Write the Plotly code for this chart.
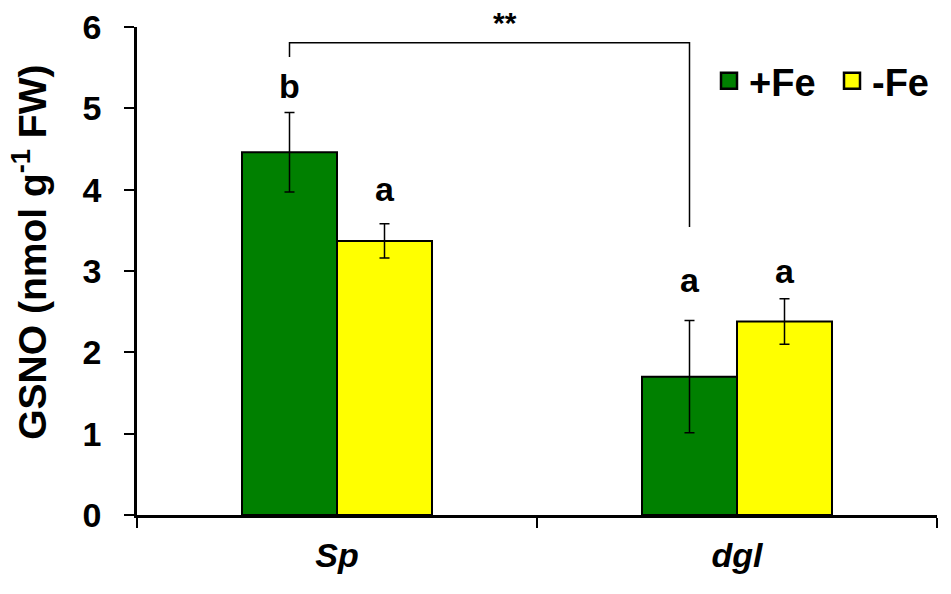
import plotly.graph_objects as go

# dados
genotipos = ["Sp", "dgl"]
tratamentos = ["+Fe", "-Fe"]
cores = ["#008000", "#ffff00"]

gsno_mais_fe = [4.46, 1.70]
gsno_menos_fe = [3.37, 2.38]
erro_mais_fe = [0.49, 0.69]
erro_menos_fe = [0.21, 0.28]

letras_mais_fe = ["b", "a"]
letras_menos_fe = ["a", "a"]

FONTE = "Liberation Sans, Arial, sans-serif"
BARGAP = 0.525

fig = go.Figure()

series = [
    (gsno_mais_fe, erro_mais_fe, letras_mais_fe),
    (gsno_menos_fe, erro_menos_fe, letras_menos_fe),
]

for i, (valores, erros, letras) in enumerate(series):
    fig.add_trace(go.Bar(
        x=genotipos,
        y=valores,
        name=tratamentos[i],
        marker=dict(color=cores[i], line=dict(color="black", width=2)),
        error_y=dict(type="data", array=erros, color="black", thickness=1.5, width=5),
        showlegend=False,
    ))
    # legenda com quadrados maiores
    fig.add_trace(go.Scatter(
        x=[None], y=[None], mode="markers", name=tratamentos[i],
        marker=dict(symbol="square", size=22, color=cores[i],
                    line=dict(color="black", width=2.5)),
    ))

# letras de significância acima das barras de erro
largura = (1 - BARGAP) / 2
espaco_letras = [[5, 20], [14, 7]]  # px acima da barra de erro
for i, (valores, erros, letras) in enumerate(series):
    deslocamento = -largura / 2 if i == 0 else largura / 2
    for j in range(len(genotipos)):
        fig.add_annotation(
            x=j + deslocamento, y=valores[j] + erros[j],
            text=letras[j], showarrow=False, yanchor="bottom",
            yshift=espaco_letras[i][j],
            font=dict(family=FONTE, size=34, color="black", weight="bold"),
        )

# colchete de comparação entre genótipos
x_esq = 0 - largura / 2
x_dir = 1 - largura / 2
fig.add_shape(type="path", xref="x", yref="y",
              path=f"M {x_esq},5.63 L {x_esq},5.805 L {x_dir},5.805 L {x_dir},3.54",
              line=dict(color="black", width=1.5))
fig.add_annotation(x=0.42, y=5.805, text="**", showarrow=False, yanchor="bottom",
                   yshift=2, font=dict(family=FONTE, size=30, color="black", weight="bold"))

# título do eixo y
fig.add_annotation(
    xref="paper", yref="paper", x=-0.134, y=0.539,
    text="GSNO (nmol g<sup>-1</sup> FW)", textangle=-90, showarrow=False,
    xanchor="center", yanchor="middle",
    font=dict(family=FONTE, size=39, color="black", weight="bold"),
)

fig.update_layout(
    width=951, height=594,
    margin=dict(l=129, r=22, t=19, b=87, autoexpand=False),
    plot_bgcolor="white", paper_bgcolor="white",
    barmode="group", bargap=BARGAP, bargroupgap=0,
    font=dict(family=FONTE, color="black"),
    legend=dict(orientation="h", x=0.715, y=0.889, xanchor="left", yanchor="middle",
                bgcolor="rgba(0,0,0,0)", entrywidth=78,
                font=dict(family=FONTE, size=38, color="black", weight="bold")),
    xaxis=dict(
        showline=True, linecolor="black", linewidth=2.5, automargin=False,
        ticks="outside", tickson="boundaries", ticklen=10, tickwidth=2, tickcolor="black",
        ticklabelstandoff=8,
        tickfont=dict(family=FONTE, size=34, color="black", weight="bold", style="italic"),
        showgrid=False, range=[-0.5, 1.5],
    ),
    yaxis=dict(
        range=[0, 6], dtick=1, showline=True, linecolor="black", linewidth=2.5,
        automargin=False,
        ticks="outside", ticklen=10, tickwidth=2, tickcolor="black",
        ticklabelstandoff=16, ticklabeloverflow="allow",
        tickfont=dict(family=FONTE, size=34, color="black", weight="bold"),
        showgrid=False, zeroline=False,
    ),
)

fig.write_html("out.html")
